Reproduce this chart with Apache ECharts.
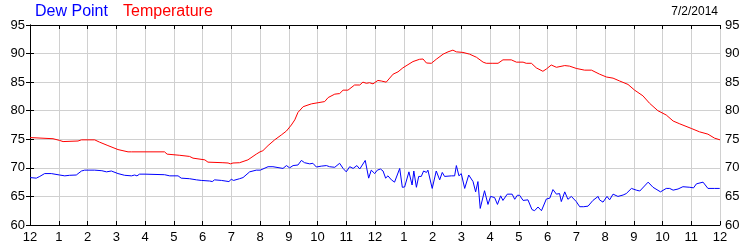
<!DOCTYPE html>
<html>
<head>
<meta charset="utf-8">
<script src="https://cdn.jsdelivr.net/npm/echarts@6/dist/echarts.min.js"></script>
<style>html,body{margin:0;padding:0;background:#fff}#c{width:750px;height:250px}</style>
</head>
<body>
<div id="c"></div>
<script>
// Hours since midnight (0..24) and values
var tempHours = [0,0.8,1.03,1.15,1.67,1.79,2.25,2.42,2.71,3.06,3.41,3.53,
  4.0,4.68,4.77,5.21,5.55,5.67,6.08,6.19,6.71,6.89,6.97,7.06,7.29,7.58,7.87,
  8.0,8.1,8.28,8.51,8.74,8.92,9.09,9.21,9.32,9.5,9.67,9.79,10.02,10.25,10.37,10.6,10.77,10.89,11.06,11.29,11.47,11.58,11.7,11.81,11.93,
  12.1,12.22,12.39,12.63,12.8,12.97,13.32,13.55,13.67,13.79,13.96,14.13,14.37,14.54,14.71,14.83,15.06,15.29,15.53,15.76,15.87,
  16.1,16.28,16.45,16.74,16.92,17.15,17.26,17.44,17.61,17.84,17.96,18.13,18.31,18.6,18.77,19.0,19.29,19.53,19.81,20.05,
  20.28,20.51,20.8,21.03,21.32,21.55,21.84,22.13,22.37,22.6,23.0,23.29,23.58,23.81,24.0];
var tempValues = [75.3,75.1,74.8,74.6,74.7,74.9,74.9,74.5,73.9,73.2,72.8,72.8,
  72.8,72.8,72.4,72.2,72.0,71.7,71.4,71.0,70.9,70.85,70.7,70.85,70.9,71.4,72.4,
  72.8,73.0,73.9,74.9,75.75,76.45,77.5,78.4,79.7,80.7,81.0,81.2,81.4,81.6,82.3,82.9,83.0,83.6,83.6,84.5,84.5,85.0,84.8,84.9,84.7,
  85.3,85.2,85.0,86.4,86.8,87.5,88.6,89.0,89.05,88.35,88.3,89.0,89.9,90.3,90.6,90.3,90.2,89.9,89.35,88.5,88.3,
  88.3,88.3,88.9,88.9,88.5,88.5,88.3,88.3,87.5,86.9,87.3,88.0,87.6,87.9,87.8,87.4,87.1,87.1,86.4,85.9,
  85.7,85.2,84.6,83.6,82.6,81.3,80.0,79.25,78.2,77.7,76.9,76.3,75.9,75.2,74.9];

var dewHours = [0,0.22,0.34,0.51,0.74,1.03,1.21,1.38,1.61,1.79,1.9,2.25,2.5,2.66,2.83,3.06,3.29,3.53,3.64,3.72,3.81,
  4.0,4.68,4.86,5.15,5.26,5.55,5.79,5.96,6.25,6.34,6.42,6.66,6.92,7.0,7.08,7.29,7.41,7.64,7.87,8.01,
  8.05,8.28,8.45,8.51,8.8,8.92,9.03,9.15,9.32,9.44,9.55,9.73,9.84,9.96,10.13,10.31,10.42,10.6,10.77,10.89,11.0,11.12,11.24,11.37,11.47,11.66,11.78,11.87,11.99,
  12.08,12.19,12.28,12.37,12.45,12.57,12.68,12.86,12.95,13.03,13.18,13.29,13.35,13.44,13.52,13.61,13.69,13.79,13.84,13.99,14.13,14.25,14.34,14.42,14.66,14.77,14.83,14.92,15.0,15.12,15.26,15.41,15.5,15.58,15.66,15.81,15.93,
  16.02,16.16,16.26,16.37,16.45,16.6,16.77,16.86,16.95,17.03,17.15,17.32,17.46,17.55,17.67,17.79,17.84,17.96,18.08,18.19,18.31,18.42,18.48,18.6,18.71,18.83,19.0,19.12,19.26,19.41,19.58,19.76,19.81,19.93,20.07,
  20.16,20.28,20.45,20.63,20.74,20.92,21.09,21.21,21.5,21.67,21.93,22.13,22.25,22.37,22.54,22.71,22.95,23.08,23.18,23.41,23.58,23.81,23.99];
var dewValues = [68.3,68.2,68.5,69.0,69.0,68.75,68.6,68.7,68.75,69.45,69.6,69.6,69.5,69.3,69.45,69.0,68.7,68.6,68.75,68.6,68.9,
  68.9,68.8,68.6,68.6,68.2,68.1,67.9,67.8,67.7,67.6,67.9,67.8,67.6,68.0,67.8,68.1,68.3,69.3,69.6,69.6,
  69.6,70.2,70.2,69.9,69.9,70.4,70.0,70.4,70.5,71.3,70.9,70.7,70.8,70.15,70.3,70.4,70.2,70.1,70.8,69.9,69.3,70.2,69.9,70.4,69.8,71.3,68.2,69.6,69.0,
  69.6,69.8,69.45,68.2,68.6,67.9,67.5,69.9,66.6,66.65,69.3,67.0,69.45,66.6,68.5,68.5,69.45,69.2,69.6,66.4,69.45,67.9,69.2,68.5,68.6,68.6,70.4,68.6,69.0,66.4,68.75,67.6,65.8,67.6,62.9,66.0,63.6,
  65.0,64.8,63.6,65.1,64.3,65.4,65.4,64.5,65.2,65.2,64.3,64.4,62.7,62.5,63.15,62.5,62.3,64.55,64.7,66.2,65.4,65.5,64.1,65.8,64.5,65.0,64.1,63.2,63.2,63.3,64.3,65.0,64.4,64.0,65.0,
  64.4,65.4,65.0,65.25,65.5,66.4,66.1,65.95,67.5,66.6,65.8,66.4,66.4,66.1,66.3,66.7,66.6,66.5,67.2,67.5,66.4,66.4,66.4];

var hourTickLabels = ['12','1','2','3','4','5','6','7','8','9','10','11','12','1','2','3','4','5','6','7','8','9','10','11','12'];
var legendNames = ['Dew Point', 'Temperature'];
var dateLabel = '7/2/2014';

function pairs(xs, ys) { var out = []; for (var i = 0; i < xs.length; i++) out.push([xs[i], ys[i]]); return out; }

var font = '"Liberation Sans", Arial, sans-serif';
var chart = echarts.init(document.getElementById('c'), null, {renderer: 'canvas'});
var yCommon = {
  type: 'value', min: 60, max: 95, interval: 5,
  axisLine: {show: true, lineStyle: {color: '#000', width: 1}},
  axisTick: {show: true, inside: false, length: 4, lineStyle: {color: '#000'}},
  axisLabel: {color: '#000', fontSize: 13, fontFamily: font, margin: 5}
};
chart.setOption({
  animation: false,
  backgroundColor: '#fff',
  grid: {left: 30, right: 30, top: 25, bottom: 25, containLabel: false},
  xAxis: [{
    type: 'value', min: 0, max: 24, interval: 1, position: 'bottom',
    axisLine: {show: true, lineStyle: {color: '#000', width: 1}},
    axisTick: {show: true, inside: true, length: 4, lineStyle: {color: '#000'}},
    axisLabel: {color: '#000', fontSize: 13, fontFamily: font, margin: 6,
      formatter: function (v) { return hourTickLabels[Math.round(v)]; }},
    splitLine: {show: true, lineStyle: {color: '#d0d0d0', width: 1}}
  }, {
    type: 'value', min: 0, max: 24, interval: 1, position: 'top',
    axisLine: {show: true, lineStyle: {color: '#000', width: 1}},
    axisTick: {show: true, inside: true, length: 4, lineStyle: {color: '#000'}},
    axisLabel: {show: false}, splitLine: {show: false}
  }],
  yAxis: [
    Object.assign({}, yCommon, {position: 'left', splitLine: {show: true, lineStyle: {color: '#d0d0d0', width: 1}}}),
    Object.assign({}, yCommon, {position: 'right', splitLine: {show: false}})
  ],
  series: [{
    name: legendNames[1], type: 'line', data: pairs(tempHours, tempValues),
    showSymbol: false, symbol: 'none', lineStyle: {color: '#ff0000', width: 1}, z: 3
  }, {
    name: legendNames[0], type: 'line', data: pairs(dewHours, dewValues),
    showSymbol: false, symbol: 'none', lineStyle: {color: '#0000ff', width: 1}, z: 3
  }],
  graphic: [
    {type: 'text', left: 35, top: 4, style: {text: legendNames[0], fill: '#0000ff', font: '16px ' + font}},
    {type: 'text', left: 123, top: 4, style: {text: legendNames[1], fill: '#ff0000', font: '16px ' + font}},
    {type: 'text', right: 32, top: 6, style: {text: dateLabel, fill: '#000', font: '12px ' + font}}
  ]
});
</script>
</body>
</html>
